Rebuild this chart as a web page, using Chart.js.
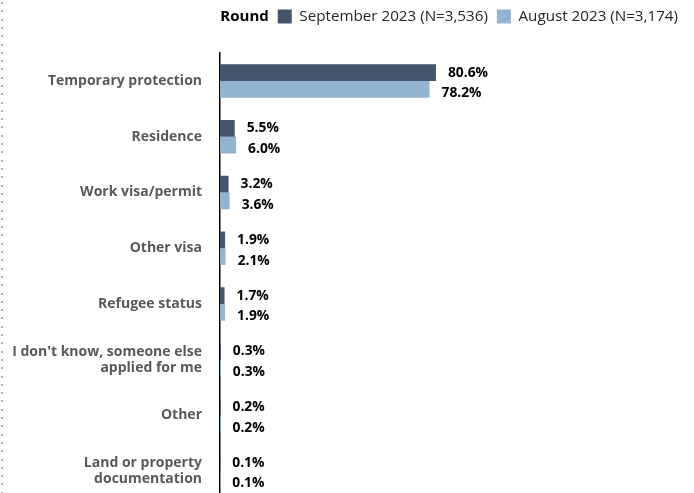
<!DOCTYPE html>
<html>
<head>
<meta charset="utf-8">
<script src="https://cdn.jsdelivr.net/npm/chart.js@4.4.1/dist/chart.umd.min.js"></script>
<style>
  html, body { margin: 0; padding: 0; width: 694px; height: 493px; overflow: hidden; background: #fff; }
  canvas { display: block; }
</style>
</head>
<body>
<canvas id="chart" width="694" height="525"></canvas>
<script>
// Permit types held, by survey round (% of respondents)
const categories = [
  'Temporary protection',
  'Residence',
  'Work visa/permit',
  'Other visa',
  'Refugee status',
  ["I don't know, someone else", 'applied for me'],
  'Other',
  ['Land or property', 'documentation']
];
const september2023 = [80.6, 5.5, 3.2, 1.9, 1.7, 0.3, 0.2, 0.1];
const august2023 = [78.2, 6.0, 3.6, 2.1, 1.9, 0.3, 0.2, 0.1];
const seriesNames = ['September 2023 (N=3,536)', 'August 2023 (N=3,174)'];
const legendTitle = 'Round';

const FONT = "'Open Sans', 'Noto Sans', sans-serif";

// Value labels drawn just past the end of each bar; the pair is spread slightly apart
const labelShift = [-1, 3];
const valueLabels = {
  id: 'valueLabels',
  afterDatasetsDraw(chart) {
    const ctx = chart.ctx;
    ctx.save();
    ctx.font = `bold 13.8px ${FONT}`;
    ctx.fillStyle = '#000';
    ctx.textAlign = 'left';
    ctx.textBaseline = 'middle';
    chart.data.datasets.forEach((ds, i) => {
      chart.getDatasetMeta(i).data.forEach((bar, j) => {
        ctx.fillText(ds.data[j].toFixed(1) + '%', bar.x + 12, bar.y + 1 + labelShift[i]);
      });
    });
    ctx.restore();
  }
};

// Extra room between the legend row and the bars
const legendGap = {
  id: 'legendGap',
  beforeInit(chart) {
    const legend = chart.legend;
    if (!legend) return;
    const fit = legend.fit;
    legend.fit = function () {
      fit.call(this);
      this.height += 19;
    };
  }
};

// Bold legend heading placed in front of the legend items, plus the dotted rule on the left
const decorations = {
  id: 'decorations',
  afterDraw(chart) {
    const ctx = chart.ctx;
    ctx.save();
    const boxes = chart.legend.legendHitBoxes;
    if (boxes && boxes.length) {
      const b = boxes[0];
      ctx.font = `bold 15px ${FONT}`;
      ctx.fillStyle = '#000';
      ctx.textAlign = 'right';
      ctx.textBaseline = 'middle';
      ctx.fillText(legendTitle, b.left - 9, b.top + b.height / 2);
    }
    ctx.fillStyle = '#9DB3CC';
    for (let y = 2; y < chart.height; y += 8.3) {
      ctx.fillRect(1, Math.round(y), 2, 2);
    }
    ctx.restore();
  }
};

new Chart(document.getElementById('chart'), {
  type: 'bar',
  data: {
    labels: categories,
    datasets: [
      { label: seriesNames[0], data: september2023, backgroundColor: '#44546A' },
      { label: seriesNames[1], data: august2023, backgroundColor: '#92B4D0' }
    ]
  },
  options: {
    indexAxis: 'y',
    responsive: false,
    animation: false,
    layout: { padding: { top: 0, right: 7, bottom: 2, left: 0 } },
    datasets: { bar: { categoryPercentage: 0.6, barPercentage: 1.0 } },
    scales: {
      x: {
        display: false,
        min: 0,
        max: 174.3
      },
      y: {
        afterFit(scale) { scale.width = 220; },
        grid: { display: false, drawTicks: false },
        border: { display: true, color: '#000', width: 1.5 },
        ticks: {
          padding: 18,
          color: '#595959',
          font: { family: FONT, size: 14, weight: 'bold', lineHeight: 1.15 }
        }
      }
    },
    plugins: {
      tooltip: { enabled: false },
      legend: {
        position: 'top',
        align: 'end',
        labels: {
          boxWidth: 14,
          boxHeight: 14,
          padding: 9,
          color: '#262626',
          font: { family: FONT, size: 15.2 }
        }
      }
    }
  },
  plugins: [legendGap, valueLabels, decorations]
});
</script>
</body>
</html>
